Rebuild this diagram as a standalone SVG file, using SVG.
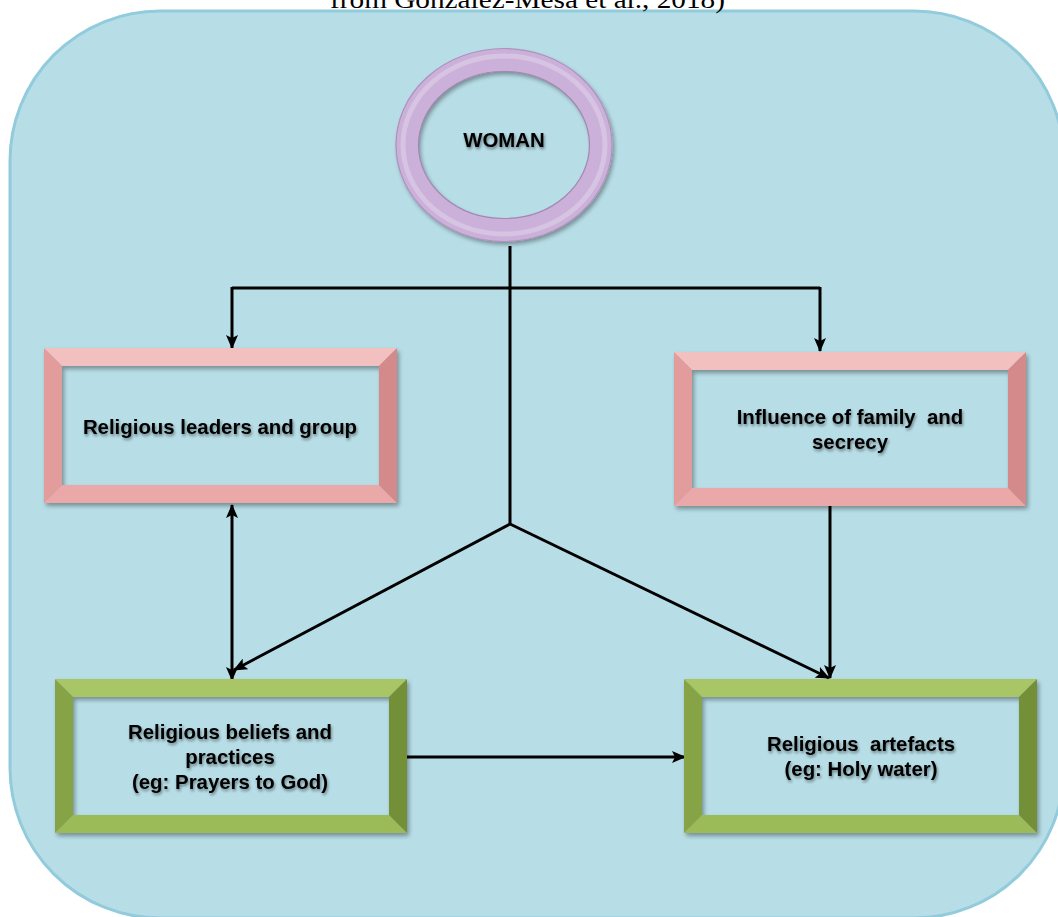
<svg xmlns="http://www.w3.org/2000/svg" width="1058" height="917" viewBox="0 0 1058 917">
<style>
.lbl{font-family:"Liberation Sans",Arial,sans-serif;font-weight:bold;font-size:20.4px;fill:#000;text-anchor:middle;white-space:pre}
.conn{stroke:#000;stroke-width:3;fill:none}
.pk-t{fill:#f3c0c0}.pk-l{fill:#e39c9c}.pk-r{fill:#d48a8a}.pk-b{fill:#eaa8a8}
.gr-t{fill:#a9c666}.gr-l{fill:#86a345}.gr-r{fill:#738f37}.gr-b{fill:#9bba58}
</style>
<defs>
<filter id="sh" x="-10%" y="-10%" width="130%" height="130%">
<feDropShadow dx="2" dy="3" stdDeviation="2" flood-color="#000" flood-opacity="0.35"/>
</filter>
<filter id="tsh" x="-10%" y="-30%" width="120%" height="160%">
<feGaussianBlur in="SourceAlpha" stdDeviation="1.5" result="b"/>
<feOffset dx="1" dy="2" result="o"/>
<feComponentTransfer in="o" result="o2"><feFuncA type="linear" slope="0.45"/></feComponentTransfer>
<feMerge><feMergeNode in="o2"/><feMergeNode in="SourceGraphic"/></feMerge>
</filter>
<marker id="ah" viewBox="0 0 14 12" refX="13" refY="6" markerWidth="14" markerHeight="12" markerUnits="userSpaceOnUse" orient="auto-start-reverse">
<path d="M0,0 L14,6 L0,12 L3,6 z" fill="#000"/>
</marker>
</defs>

<rect x="10" y="11" width="1054" height="907" rx="150" ry="150" fill="#b7dde6" stroke="#92cbdb" stroke-width="3"/>
<text x="330" y="8" font-family="'Liberation Serif','DejaVu Serif',serif" font-size="25" textLength="395" lengthAdjust="spacingAndGlyphs" fill="#000">from González-Mesa et al., 2018)</text>

<g id="connectors">
<path class="conn" d="M510,246 V524"/>
<path class="conn" d="M232,288 H820"/>
<path class="conn" d="M232,287 V348" marker-end="url(#ah)"/>
<path class="conn" d="M820,287 V351" marker-end="url(#ah)"/>
<path class="conn" d="M510,524 L234,670" marker-end="url(#ah)"/>
<path class="conn" d="M510,524 L829,678" marker-end="url(#ah)"/>
<path class="conn" d="M830,506 V678" marker-end="url(#ah)"/>
<path class="conn" d="M232,505 V680" marker-start="url(#ah)" marker-end="url(#ah)"/>
<path class="conn" d="M407,757 H685" marker-end="url(#ah)"/>
</g>

<g id="woman">
<ellipse cx="504" cy="145" rx="97" ry="85" fill="none" stroke="#cbb1d9" stroke-width="23" filter="url(#sh)"/>
<ellipse cx="504" cy="145" rx="101" ry="89" fill="none" stroke="#dccae6" stroke-width="5" opacity="0.7"/>
<ellipse cx="504" cy="145" rx="108" ry="96.5" fill="none" stroke="#ad92bd" stroke-width="1.2"/>
<ellipse cx="504" cy="145" rx="85.5" ry="73.5" fill="none" stroke="#a287b2" stroke-width="1.2"/>
<text class="lbl" x="504" y="147" filter="url(#tsh)">WOMAN</text>
</g>

<g id="leaders" filter="url(#sh)">
<polygon class="pk-t" points="44,348 397,348 379,366 62,366"/>
<polygon class="pk-b" points="44,503 397,503 379,485 62,485"/>
<polygon class="pk-l" points="44,348 62,366 62,485 44,503"/>
<polygon class="pk-r" points="397,348 379,366 379,485 397,503"/>
</g>
<text class="lbl" x="220" y="434" filter="url(#tsh)">Religious leaders and group</text>

<g id="family" filter="url(#sh)">
<polygon class="pk-t" points="674,352 1026,352 1008,370 692,370"/>
<polygon class="pk-b" points="674,506 1026,506 1008,488 692,488"/>
<polygon class="pk-l" points="674,352 692,370 692,488 674,506"/>
<polygon class="pk-r" points="1026,352 1008,370 1008,488 1026,506"/>
</g>
<text class="lbl" x="850" y="424" filter="url(#tsh)">Influence of family  and<tspan x="850" y="449">secrecy</tspan></text>

<g id="beliefs" filter="url(#sh)">
<polygon class="gr-t" points="55,679 407,679 389,697 73,697"/>
<polygon class="gr-b" points="55,833 407,833 389,815 73,815"/>
<polygon class="gr-l" points="55,679 73,697 73,815 55,833"/>
<polygon class="gr-r" points="407,679 389,697 389,815 407,833"/>
</g>
<text class="lbl" x="230" y="739" filter="url(#tsh)">Religious beliefs and<tspan x="230" y="764">practices</tspan><tspan x="230" y="789">(eg: Prayers to God)</tspan></text>

<g id="artefacts" filter="url(#sh)">
<polygon class="gr-t" points="684,679 1037,679 1019,697 702,697"/>
<polygon class="gr-b" points="684,833 1037,833 1019,815 702,815"/>
<polygon class="gr-l" points="684,679 702,697 702,815 684,833"/>
<polygon class="gr-r" points="1037,679 1019,697 1019,815 1037,833"/>
</g>
<text class="lbl" x="861" y="751" filter="url(#tsh)">Religious  artefacts<tspan x="861" y="776">(eg: Holy water)</tspan></text>
</svg>
